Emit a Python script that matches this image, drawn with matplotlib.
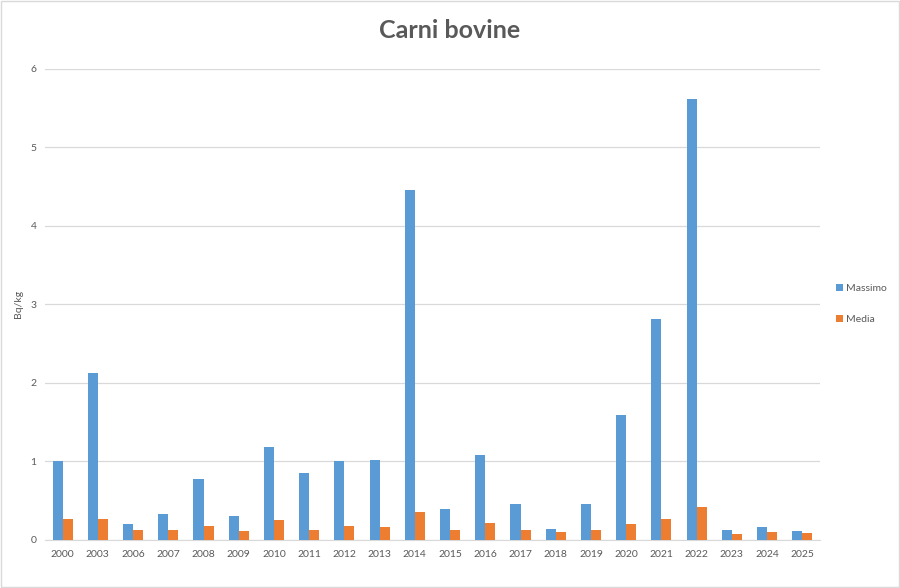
import numpy as np
import matplotlib.pyplot as plt

anni = ["2000", "2003", "2006", "2007", "2008", "2009", "2010", "2011", "2012",
        "2013", "2014", "2015", "2016", "2017", "2018", "2019", "2020", "2021",
        "2022", "2023", "2024", "2025"]
massimo = [1.00, 2.13, 0.20, 0.33, 0.78, 0.30, 1.18, 0.85, 1.01, 1.02, 4.45,
           0.39, 1.08, 0.46, 0.14, 0.45, 1.59, 2.81, 5.61, 0.12, 0.16, 0.11]
media = [0.26, 0.26, 0.13, 0.13, 0.17, 0.11, 0.25, 0.13, 0.17, 0.16, 0.36,
         0.13, 0.22, 0.13, 0.10, 0.13, 0.20, 0.27, 0.42, 0.08, 0.10, 0.09]

plt.rcParams['font.family'] = ['Lato', 'DejaVu Sans']

fig = plt.figure(figsize=(9, 5.88), dpi=100)
ax = fig.add_axes([0.05, 0.082, 0.861, 0.801])

x = np.arange(len(anni))
w = 0.285
ax.bar(x - w / 2, massimo, w, color="#5B9BD5", label="Massimo", zorder=3)
ax.bar(x + w / 2, media, w, color="#ED7D31", label="Media", zorder=3)

ax.set_xlim(-0.5, len(anni) - 0.5)
ax.set_ylim(0, 6)
ax.set_yticks(range(7))
ax.set_xticks(x)
ax.set_xticklabels(anni)
ax.tick_params(colors="#595959", labelsize=7.5, length=0)
ax.tick_params(axis="y", pad=6)
ax.tick_params(axis="x", pad=7)
ax.grid(axis="y", color="#D9D9D9", lw=0.9, zorder=0)
for s in ["top", "right", "left"]:
    ax.spines[s].set_visible(False)
ax.spines["bottom"].set_color("#D9D9D9")

ax.set_ylabel("Bq/kg", fontsize=7.5, color="#595959")
ax.yaxis.set_label_coords(-0.028, 0.5)
fig.suptitle("Carni bovine", fontsize=18, fontweight="bold", color="#595959", y=0.968)

fig.legend(loc="center left", bbox_to_anchor=(0.918, 0.483), frameon=False,
           fontsize=7.5, labelcolor="#595959", handlelength=0.7, handleheight=0.7,
           handletextpad=0.3, labelspacing=2.1)

fig.add_artist(plt.Rectangle((0.001, 0.001), 0.998, 0.998, transform=fig.transFigure,
                             fill=False, edgecolor="#D9D9D9", lw=1))

fig.savefig("out.png", dpi=100)
